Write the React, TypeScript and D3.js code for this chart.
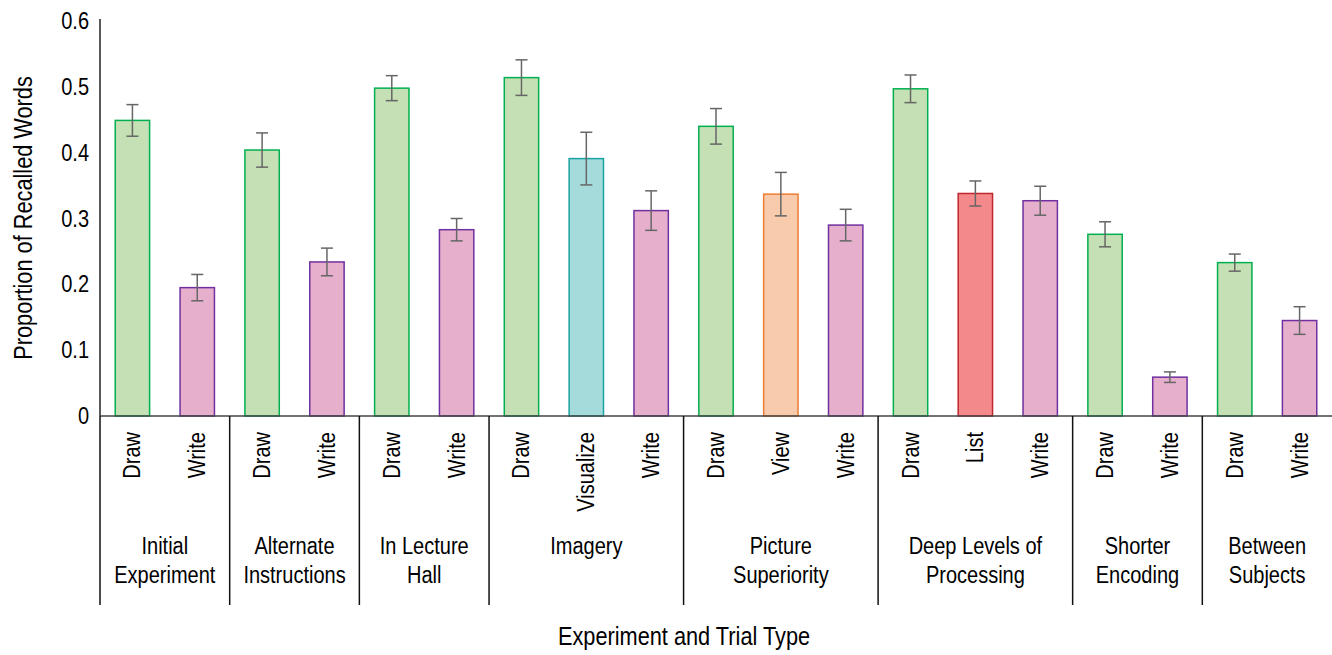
import React from 'react';
import * as d3 from 'd3';

// Data
const groupNames = [
  ['Initial', 'Experiment'],
  ['Alternate', 'Instructions'],
  ['In Lecture', 'Hall'],
  ['Imagery'],
  ['Picture', 'Superiority'],
  ['Deep Levels of', 'Processing'],
  ['Shorter', 'Encoding'],
  ['Between', 'Subjects'],
];
const trialLabels = ['Draw', 'Write', 'Draw', 'Write', 'Draw', 'Write', 'Draw', 'Visualize', 'Write', 'Draw', 'View', 'Write', 'Draw', 'List', 'Write', 'Draw', 'Write', 'Draw', 'Write'];
const trialGroup = [0, 0, 1, 1, 2, 2, 3, 3, 3, 4, 4, 4, 5, 5, 5, 6, 6, 7, 7];
const meanValues = [0.449, 0.195, 0.404, 0.234, 0.498, 0.283, 0.514, 0.391, 0.312, 0.44, 0.337, 0.29, 0.497, 0.338, 0.327, 0.276, 0.059, 0.233, 0.145];
const errorValues = [0.024, 0.02, 0.026, 0.021, 0.019, 0.017, 0.027, 0.04, 0.03, 0.027, 0.033, 0.024, 0.021, 0.019, 0.022, 0.019, 0.008, 0.013, 0.021];
const yTicks = [0, 0.1, 0.2, 0.3, 0.4, 0.5, 0.6];

const fills: Record<string, string> = {
  Draw: '#c5e0b4', Write: '#e6b0cc', Visualize: '#a5dbdb', View: '#f8cbad', List: '#f4898b',
};
const strokes: Record<string, string> = {
  Draw: '#00b050', Write: '#7030a0', Visualize: '#1aa3a3', View: '#ed7d31', List: '#c0282d',
};

const W = 1332;
const H = 655;
const FONT = '"Liberation Sans", Arial, sans-serif';
const SQUEEZE = 0.87; // fake a condensed face

// text squeezed horizontally along its own direction
function CText({ x, y, rot = 0, size, anchor = 'middle', baseline, children }: any) {
  return (
    <text transform={`translate(${x},${y}) rotate(${rot}) scale(${SQUEEZE},1)`} textAnchor={anchor}
      dominantBaseline={baseline} fontSize={size} fill="#000">
      {children}
    </text>
  );
}

export default function App() {
  const x = d3.scaleBand<number>()
    .domain(d3.range(trialLabels.length))
    .range([100, W])
    .paddingInner(0.47)
    .paddingOuter(0.235);
  const y = d3.scaleLinear().domain([0, 0.6]).range([416, 21]);
  const step = x.step();
  const bw = x.bandwidth();

  // group start/end indices
  const groupIdx = groupNames.map((_, g) => {
    const idx = trialGroup.map((v, i) => (v === g ? i : -1)).filter(i => i >= 0);
    return [idx[0], idx[idx.length - 1]];
  });

  return (
    <div style={{ position: 'absolute', left: 0, top: 0 }}>
      <svg width={W} height={H} style={{ display: 'block', fontFamily: FONT }}>
        <rect width={W} height={H} fill="#fff" />
        {/* y axis */}
        <line x1={100} x2={100} y1={19} y2={416} stroke="#222" strokeWidth={1.5} />
        {yTicks.map(t => (
          <CText key={t} x={89} y={y(t)} anchor="end" baseline="central" size={23}>
            {d3.format('')(t)}
          </CText>
        ))}
        <CText x={23} y={218} rot={-90} baseline="central" size={25}>
          Proportion of Recalled Words
        </CText>

        {/* bars */}
        {meanValues.map((v, i) => {
          const lab = trialLabels[i];
          return (
            <rect key={i} x={x(i)!} y={y(v)} width={bw} height={y(0) - y(v)}
              fill={fills[lab]} stroke={strokes[lab]} strokeWidth={1.5} />
          );
        })}
        {/* error bars */}
        {meanValues.map((v, i) => {
          const cx = x(i)! + bw / 2;
          const e = errorValues[i];
          return (
            <g key={i} stroke="#666" strokeWidth={1.5}>
              <line x1={cx} x2={cx} y1={y(v + e)} y2={y(v - e)} />
              <line x1={cx - 6} x2={cx + 6} y1={y(v + e)} y2={y(v + e)} />
              <line x1={cx - 6} x2={cx + 6} y1={y(v - e)} y2={y(v - e)} />
            </g>
          );
        })}

        {/* x axis */}
        <line x1={100} x2={W} y1={416} y2={416} stroke="#444" strokeWidth={1.5} />
        {trialLabels.map((lab, i) => (
          <CText key={i} x={x(i)! + bw / 2} y={432} rot={-90} anchor="end" baseline="central" size={23}>
            {lab}
          </CText>
        ))}
        {groupIdx.map(([a], g) => (
          <line key={g} x1={100 + a * step} x2={100 + a * step} y1={416} y2={605} stroke="#111" strokeWidth={1.5} />
        ))}
        {groupIdx.map(([a, b], g) => {
          const cx = 100 + ((a + b + 1) / 2) * step;
          return groupNames[g].map((ln, k) => (
            <CText key={`${g}-${k}`} x={cx} y={554 + k * 29} size={23}>{ln}</CText>
          ));
        })}
        <CText x={684} y={645} size={25}>Experiment and Trial Type</CText>
      </svg>
    </div>
  );
}
